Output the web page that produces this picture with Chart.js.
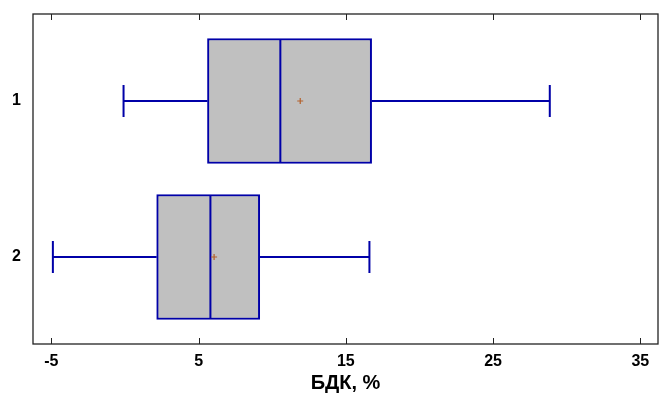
<!DOCTYPE html>
<html>
<head>
<meta charset="utf-8">
<script src="https://cdn.jsdelivr.net/npm/chart.js@4/dist/chart.umd.min.js"></script>
<style>
  html, body { margin: 0; padding: 0; background: #fff; }
  #wrap { width: 659px; height: 396px; }
</style>
</head>
<body>
<div id="wrap"><canvas id="c" width="659" height="396"></canvas></div>
<script>
// Box-plot summary per group (БДК, %)
const groups      = ['1', '2'];
const q1          = [5.6, 2.15];
const q3          = [16.75, 9.15];
const medians     = [10.55, 5.8];
const whiskerLow  = [-0.1, -4.9];
const whiskerHigh = [28.85, 16.6];
const means       = [11.9, 6.05];
const xTicks      = [-5, 5, 15, 25, 35];
const axisTitle   = 'БДК, %';

const BOX_BLUE = '#0000a8';
const FRAME = '#222222';
const FONT = '"Liberation Sans", Arial, sans-serif';

const boxData = groups.map((g, i) => ({ x: [q1[i], q3[i]], y: i + 1 }));

// Whiskers, caps, medians and mean markers drawn on top of the boxes
const boxExtras = {
  id: 'boxExtras',
  afterDatasetsDraw(chart) {
    const { ctx, scales: { x, y } } = chart;
    ctx.save();
    ctx.strokeStyle = BOX_BLUE;
    ctx.lineWidth = 2;
    const half = 62;
    const cap = 16;
    groups.forEach((g, i) => {
      const cy = y.getPixelForValue(i + 1);
      const xl = x.getPixelForValue(whiskerLow[i]);
      const xh = x.getPixelForValue(whiskerHigh[i]);
      const x1 = x.getPixelForValue(q1[i]);
      const x3 = x.getPixelForValue(q3[i]);
      const xm = x.getPixelForValue(medians[i]);
      ctx.beginPath();
      ctx.moveTo(xl, cy); ctx.lineTo(x1, cy);
      ctx.moveTo(x3, cy); ctx.lineTo(xh, cy);
      ctx.moveTo(xl, cy - cap); ctx.lineTo(xl, cy + cap);
      ctx.moveTo(xh, cy - cap); ctx.lineTo(xh, cy + cap);
      ctx.moveTo(xm, cy - half); ctx.lineTo(xm, cy + half);
      ctx.stroke();
      // mean marker
      const xa = x.getPixelForValue(means[i]);
      ctx.save();
      ctx.strokeStyle = '#b4602a';
      ctx.lineWidth = 1.2;
      ctx.beginPath();
      ctx.moveTo(xa - 3, cy); ctx.lineTo(xa + 3, cy);
      ctx.moveTo(xa, cy - 3); ctx.lineTo(xa, cy + 3);
      ctx.stroke();
      ctx.restore();
    });
    ctx.restore();
  }
};

// Plot frame with inward ticks on top and bottom edges
const frame = {
  id: 'frame',
  afterDraw(chart) {
    const { ctx, chartArea: a, scales: { x } } = chart;
    ctx.save();
    ctx.strokeStyle = FRAME;
    ctx.lineWidth = 1.3;
    ctx.strokeRect(a.left, a.top, a.right - a.left, a.bottom - a.top);
    ctx.beginPath();
    xTicks.forEach(v => {
      const px = Math.round(x.getPixelForValue(v)) + 0.5;
      ctx.moveTo(px, a.top); ctx.lineTo(px, a.top + 6);
      ctx.moveTo(px, a.bottom); ctx.lineTo(px, a.bottom - 6);
    });
    ctx.lineWidth = 1;
    ctx.stroke();
    ctx.restore();
  }
};

new Chart(document.getElementById('c'), {
  type: 'bar',
  data: {
    datasets: [{
      data: boxData,
      backgroundColor: '#c0c0c0',
      borderColor: BOX_BLUE,
      borderWidth: 2,
      borderSkipped: false,
      barThickness: 125
    }]
  },
  options: {
    indexAxis: 'y',
    responsive: false,
    animation: false,
    layout: { padding: { top: 14, right: 1, left: 0, bottom: 0 } },
    plugins: { legend: { display: false }, tooltip: { enabled: false } },
    scales: {
      x: {
        type: 'linear',
        min: -6.25,
        max: 36.2,
        afterBuildTicks(s) { s.ticks = xTicks.map(v => ({ value: v })); },
        afterFit(s) { s.height = 52; s.paddingLeft = 0; s.paddingRight = 0; },
        grid: { display: false, drawTicks: false },
        border: { display: false },
        ticks: {
          padding: 8,
          color: '#000',
          font: { family: FONT, size: 16, weight: 'bold' },
          callback: v => String(v)
        },
        title: {
          display: true,
          text: axisTitle,
          color: '#000',
          padding: { top: 0, bottom: 1 },
          font: { family: FONT, size: 20, weight: 'bold' }
        }
      },
      y: {
        type: 'linear',
        reverse: true,
        offset: false,
        min: 0.442,
        max: 2.558,
        afterBuildTicks(s) { s.ticks = groups.map((g, i) => ({ value: i + 1 })); },
        afterFit(s) { s.width = 33; s.paddingTop = 0; s.paddingBottom = 0; },
        grid: { display: false, drawTicks: false },
        border: { display: false },
        ticks: {
          padding: 12,
          color: '#000',
          font: { family: FONT, size: 16, weight: 'bold' },
          callback: v => groups[v - 1]
        }
      }
    }
  },
  plugins: [boxExtras, frame]
});
</script>
</body>
</html>
